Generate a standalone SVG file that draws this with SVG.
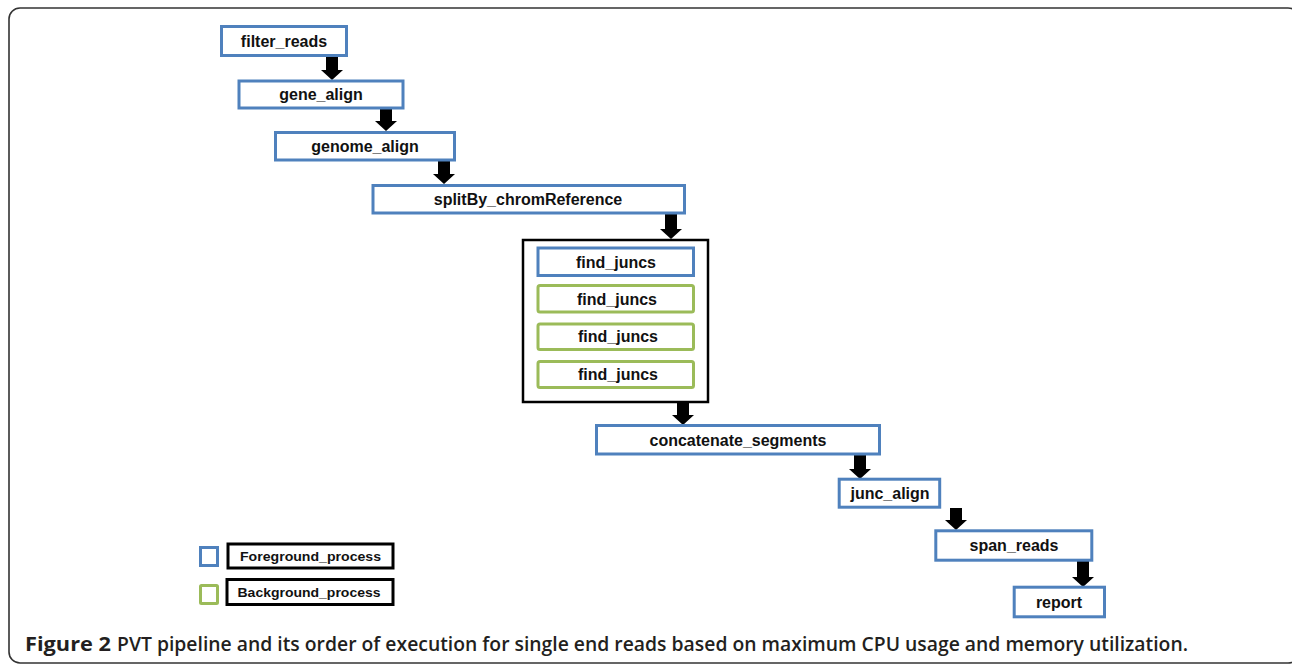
<svg xmlns="http://www.w3.org/2000/svg" width="1292" height="664" viewBox="0 0 1292 664">
<style>
.fg{fill:#fff;stroke:#4F81BD;stroke-width:3}
.bg{fill:#fff;stroke:#9BBB59;stroke-width:3}
.blk{fill:#fff;stroke:#000;stroke-width:3}
.lbl{font-family:"Liberation Sans",Arial,sans-serif;font-weight:bold;font-size:16px;fill:#111;text-anchor:middle}
.leg{font-family:"Liberation Sans",Arial,sans-serif;font-weight:bold;font-size:13.5px;fill:#111;text-anchor:middle}
.arr{fill:#000}
.cap{font-family:"Open Sans",sans-serif;font-size:19px;fill:#231f20}
</style>
<rect x="9" y="8" width="1290" height="655" rx="11" fill="#fff" stroke="#333" stroke-width="1.6"/>
<g id="connectors">
<path class="arr" d="M326 56h12v14h5l-11 10l-11-10h5z"/>
<path class="arr" d="M380 108h12v13h5l-11 10l-11-10h5z"/>
<path class="arr" d="M438 161h12v13h5l-11 10l-11-10h5z"/>
<path class="arr" d="M665 213h12v16h5l-11 10l-11-10h5z"/>
<path class="arr" d="M677 403h12v12h5l-11 10l-11-10h5z"/>
<path class="arr" d="M854 455h12v14h5l-11 10l-11-10h5z"/>
<path class="arr" d="M950 508h12v12h5l-11 10l-11-10h5z"/>
<path class="arr" d="M1077 560h12v17h5l-11 10l-11-10h5z"/>
</g>
<g id="filter_reads"><rect class="fg" x="221.5" y="26.5" width="125" height="29"/><text class="lbl" x="284" y="47">filter_reads</text></g>
<g id="gene_align"><rect class="fg" x="239" y="81" width="164" height="27"/><text class="lbl" x="321" y="100">gene_align</text></g>
<g id="genome_align"><rect class="fg" x="275.5" y="132.5" width="179" height="27.5"/><text class="lbl" x="365" y="152">genome_align</text></g>
<g id="splitBy_chromReference"><rect class="fg" x="373" y="185.5" width="311.5" height="27.5"/><text class="lbl" x="528" y="205">splitBy_chromReference</text></g>
<g id="find_juncs_group">
<rect x="523" y="240" width="185" height="162" fill="#fff" stroke="#000" stroke-width="2.5"/>
<g id="find_juncs_1"><rect class="fg" x="538" y="248" width="155.5" height="27.5"/><text class="lbl" x="616" y="268">find_juncs</text></g>
<g id="find_juncs_2"><rect class="bg" x="538" y="285.5" width="155.5" height="26.5" rx="2"/><text class="lbl" x="617" y="305">find_juncs</text></g>
<g id="find_juncs_3"><rect class="bg" x="538" y="324" width="155.5" height="25.5" rx="2"/><text class="lbl" x="618" y="342">find_juncs</text></g>
<g id="find_juncs_4"><rect class="bg" x="538" y="361.5" width="155.5" height="26" rx="2"/><text class="lbl" x="618" y="380">find_juncs</text></g>
</g>
<g id="concatenate_segments"><rect class="fg" x="596.5" y="425.5" width="283" height="28.5"/><text class="lbl" x="738" y="446">concatenate_segments</text></g>
<g id="junc_align"><rect class="fg" x="839.2" y="479.2" width="100.5" height="28"/><text class="lbl" x="890" y="499">junc_align</text></g>
<g id="span_reads"><rect class="fg" x="935.8" y="530.8" width="156" height="29.4"/><text class="lbl" x="1014" y="551">span_reads</text></g>
<g id="report"><rect class="fg" x="1014.2" y="587.2" width="90.3" height="29.6"/><text class="lbl" x="1059" y="608">report</text></g>
<g id="legend">
<rect class="fg" x="200.5" y="547.5" width="17" height="18"/>
<rect class="blk" x="228" y="544" width="165" height="24"/>
<text class="leg" x="310.5" y="561" textLength="141" lengthAdjust="spacingAndGlyphs">Foreground_process</text>
<rect class="bg" x="200.5" y="585.5" width="17" height="18" rx="1"/>
<rect class="blk" x="227" y="579.5" width="166" height="25"/>
<text class="leg" x="309" y="597" textLength="143" lengthAdjust="spacingAndGlyphs">Background_process</text>
</g>
<text class="cap" x="25" y="651" font-weight="700" fill="#000" textLength="86" lengthAdjust="spacingAndGlyphs">Figure 2</text>
<text class="cap" x="117" y="651" font-weight="600" textLength="1071" lengthAdjust="spacingAndGlyphs">PVT pipeline and its order of execution for single end reads based on maximum CPU usage and memory utilization.</text>
</svg>
